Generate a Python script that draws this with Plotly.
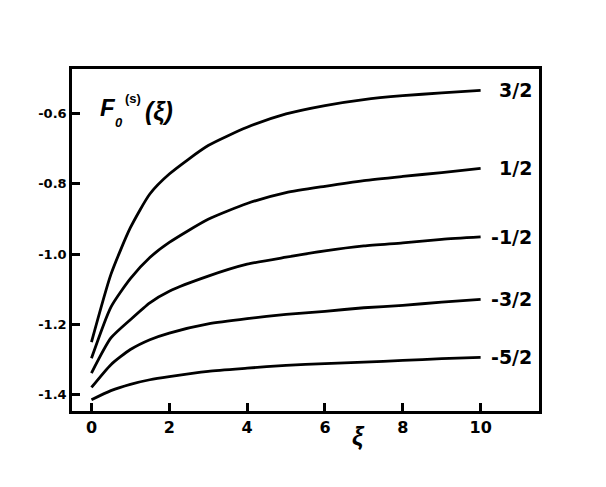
import plotly.graph_objs as go

# valores
xi = [0, 0.5, 1, 1.5, 2, 3, 4, 5, 6, 7, 8, 9, 10]
f_32 = [-1.251, -1.058, -0.925, -0.829, -0.772, -0.691, -0.639, -0.601, -0.577, -0.560, -0.549, -0.541, -0.534]
f_12 = [-1.297, -1.151, -1.070, -1.010, -0.967, -0.901, -0.856, -0.825, -0.807, -0.791, -0.779, -0.768, -0.756]
f_m12 = [-1.339, -1.239, -1.187, -1.139, -1.106, -1.063, -1.029, -1.009, -0.991, -0.977, -0.968, -0.958, -0.951]
f_m32 = [-1.380, -1.315, -1.272, -1.244, -1.225, -1.199, -1.184, -1.172, -1.163, -1.153, -1.146, -1.137, -1.129]
f_m52 = [-1.415, -1.389, -1.371, -1.358, -1.349, -1.334, -1.325, -1.317, -1.312, -1.308, -1.303, -1.298, -1.294]

rotulos = ['3/2', '1/2', '-1/2', '-3/2', '-5/2']
curvas = [f_32, f_12, f_m12, f_m32, f_m52]

ticks_x = [0, 2, 4, 6, 8, 10]
ticks_y = [-1.4, -1.2, -1.0, -0.8, -0.6]

fonte = 'Liberation Sans, Arial, sans-serif'
fonte_num = 'DejaVu Sans, sans-serif'

fig = go.Figure()
for nome, ys in zip(rotulos, curvas):
    fig.add_trace(go.Scatter(x=xi, y=ys, mode='lines', name=nome,
                             line=dict(color='black', width=2.8, shape='spline', smoothing=0.6)))
    # rotulo no fim da curva
    fig.add_annotation(x=11.37, y=ys[-1], xref='x', yref='y', text='<b>' + nome + '</b>',
                       showarrow=False, xanchor='right', yanchor='middle',
                       font=dict(family=fonte_num, size=19, color='black'))

# F_0^(s)(xi)
fig.add_annotation(x=0.17, y=-0.584, text='<b><i>F</i></b>', showarrow=False,
                   xanchor='left', yanchor='middle', font=dict(family=fonte, size=24, color='black'))
fig.add_annotation(x=0.71, y=-0.626, text='<b><i>0</i></b>', showarrow=False,
                   xanchor='center', yanchor='middle', font=dict(family=fonte, size=13, color='black'))
fig.add_annotation(x=1.08, y=-0.556, text='<b>(s)</b>', showarrow=False,
                   xanchor='center', yanchor='middle', font=dict(family=fonte, size=13, color='black'))
fig.add_annotation(x=1.74, y=-0.593, text='<b><i>(ξ)</i></b>', showarrow=False,
                   xanchor='center', yanchor='middle', font=dict(family=fonte, size=25, color='black'))

# titulo do eixo x (yref paper, senao fica escondido fora do range)
fig.add_annotation(x=6.85, y=-0.072, xref='x', yref='paper', text='<b><i>ξ</i></b>', showarrow=False,
                   xanchor='center', yanchor='middle', font=dict(family=fonte, size=25, color='black'))

# a pagina tem 8px de margem no body, por isso 598x479
fig.update_layout(width=598, height=479, showlegend=False,
                  plot_bgcolor='white', paper_bgcolor='white',
                  margin=dict(l=64, r=67, t=61, b=76),
                  font=dict(family=fonte, color='black'),
                  xaxis=dict(range=[-0.5, 11.5], tickvals=ticks_x,
                             ticktext=['<b>%d</b>' % v for v in ticks_x],
                             ticks='inside', ticklen=8, tickwidth=2.5, tickcolor='black',
                             showline=True, linecolor='black', linewidth=2.5, mirror=True,
                             showgrid=False, zeroline=False,
                             tickfont=dict(family=fonte_num, size=16, color='black')),
                  yaxis=dict(range=[-1.447, -0.473], tickvals=ticks_y,
                             ticktext=['<b>%.1f</b>' % v for v in ticks_y],
                             ticks='inside', ticklen=8, tickwidth=2.5, tickcolor='black',
                             showline=True, linecolor='black', linewidth=2.5, mirror=True,
                             showgrid=False, zeroline=False,
                             tickfont=dict(family=fonte_num, size=13, color='black')))

fig.write_html("out.html")
